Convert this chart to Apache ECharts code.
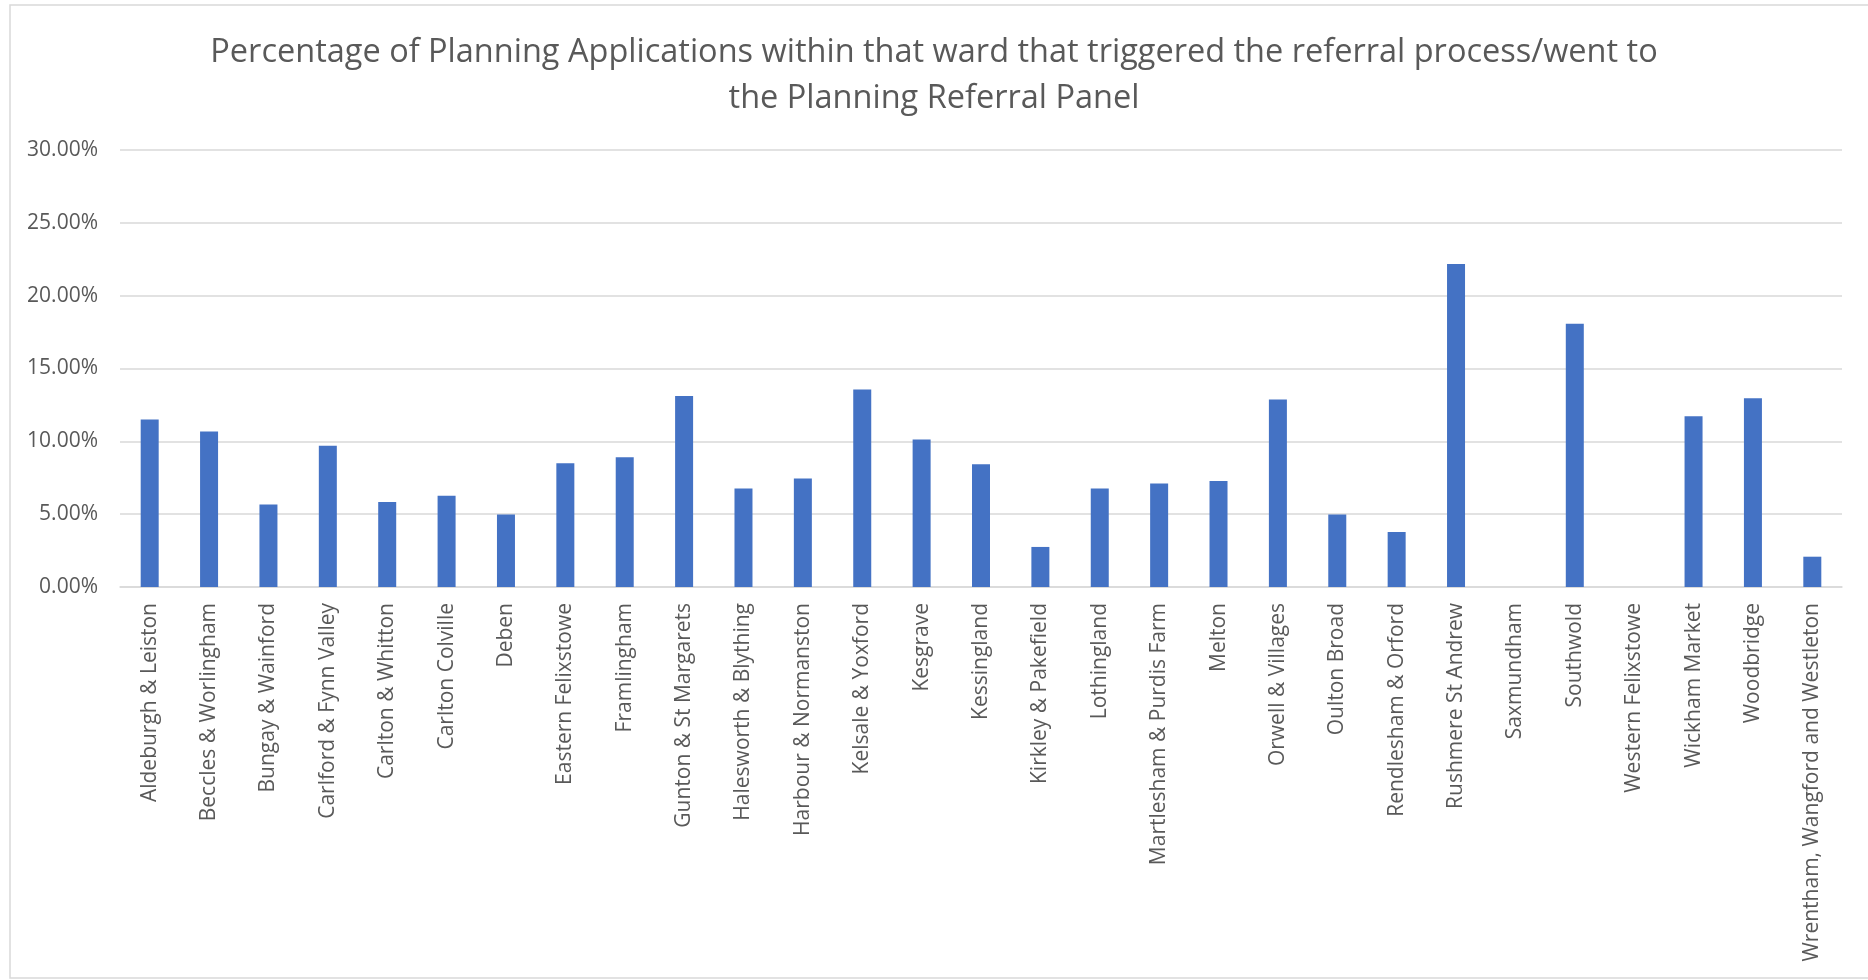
<!DOCTYPE html>
<html>
<head>
<meta charset="utf-8">
<script src="https://cdn.jsdelivr.net/npm/echarts@6/dist/echarts.min.js"></script>
<style>
html,body{margin:0;padding:0;background:#fff;}
#chart{width:1868px;height:980px;}
</style>
</head>
<body>
<div id="chart"></div>
<script>
const titleText = 'Percentage of Planning Applications within that ward that triggered the referral process/went to\nthe Planning Referral Panel';
const categories = [
  'Aldeburgh & Leiston','Beccles & Worlingham','Bungay & Wainford','Carlford & Fynn Valley',
  'Carlton & Whitton','Carlton Colville','Deben','Eastern Felixstowe','Framlingham',
  'Gunton & St Margarets','Halesworth & Blything','Harbour & Normanston','Kelsale & Yoxford',
  'Kesgrave','Kessingland','Kirkley & Pakefield','Lothingland','Martlesham & Purdis Farm',
  'Melton','Orwell & Villages','Oulton Broad','Rendlesham & Orford','Rushmere St Andrew',
  'Saxmundham','Southwold','Western Felixstowe','Wickham Market','Woodbridge',
  'Wrentham, Wangford and Westleton'
];
const percentValues = [
  11.50, 10.67, 5.66, 9.69,
  5.84, 6.27, 4.97, 8.50, 8.91,
  13.12, 6.76, 7.44, 13.56,
  10.12, 8.43, 2.75, 6.76, 7.10,
  7.28, 12.87, 4.97, 3.78, 22.17,
  0, 18.07, 0, 11.72, 12.96,
  2.08
];
const yMin = 0, yMax = 30, yInterval = 5;

const chart = echarts.init(document.getElementById('chart'), null, {renderer: 'canvas'});
const textColor = '#595959';
const gridColor = '#d9d9d9';
const font = 'Open Sans';
chart.setOption({
  backgroundColor: '#ffffff',
  animation: false,
  graphic: [{
    type: 'rect',
    shape: {x: 10, y: 5, width: 1900, height: 973},
    style: {fill: 'none', stroke: gridColor, lineWidth: 1.5},
    silent: true
  }],
  title: {
    text: titleText,
    left: 'center',
    top: 25,
    textStyle: {color: textColor, fontFamily: font, fontSize: 32.5, fontWeight: 'normal', lineHeight: 46}
  },
  grid: {left: 120, right: 26, top: 150, bottom: 393},
  xAxis: {
    type: 'category',
    data: categories,
    axisTick: {show: false},
    axisLine: {lineStyle: {color: gridColor, width: 1.5}},
    axisLabel: {interval: 0, rotate: 90, margin: 16, color: textColor, fontFamily: font, fontSize: 21}
  },
  yAxis: {
    type: 'value',
    min: yMin, max: yMax, interval: yInterval,
    axisLine: {show: false},
    axisTick: {show: false},
    splitLine: {lineStyle: {color: gridColor, width: 1.5}},
    axisLabel: {margin: 22, color: textColor, fontFamily: font, fontSize: 21,
      formatter: v => v.toFixed(2) + '%'}
  },
  series: [{
    type: 'bar',
    data: percentValues,
    barWidth: 18,
    itemStyle: {color: '#4472C4'}
  }]
});
</script>
</body>
</html>
